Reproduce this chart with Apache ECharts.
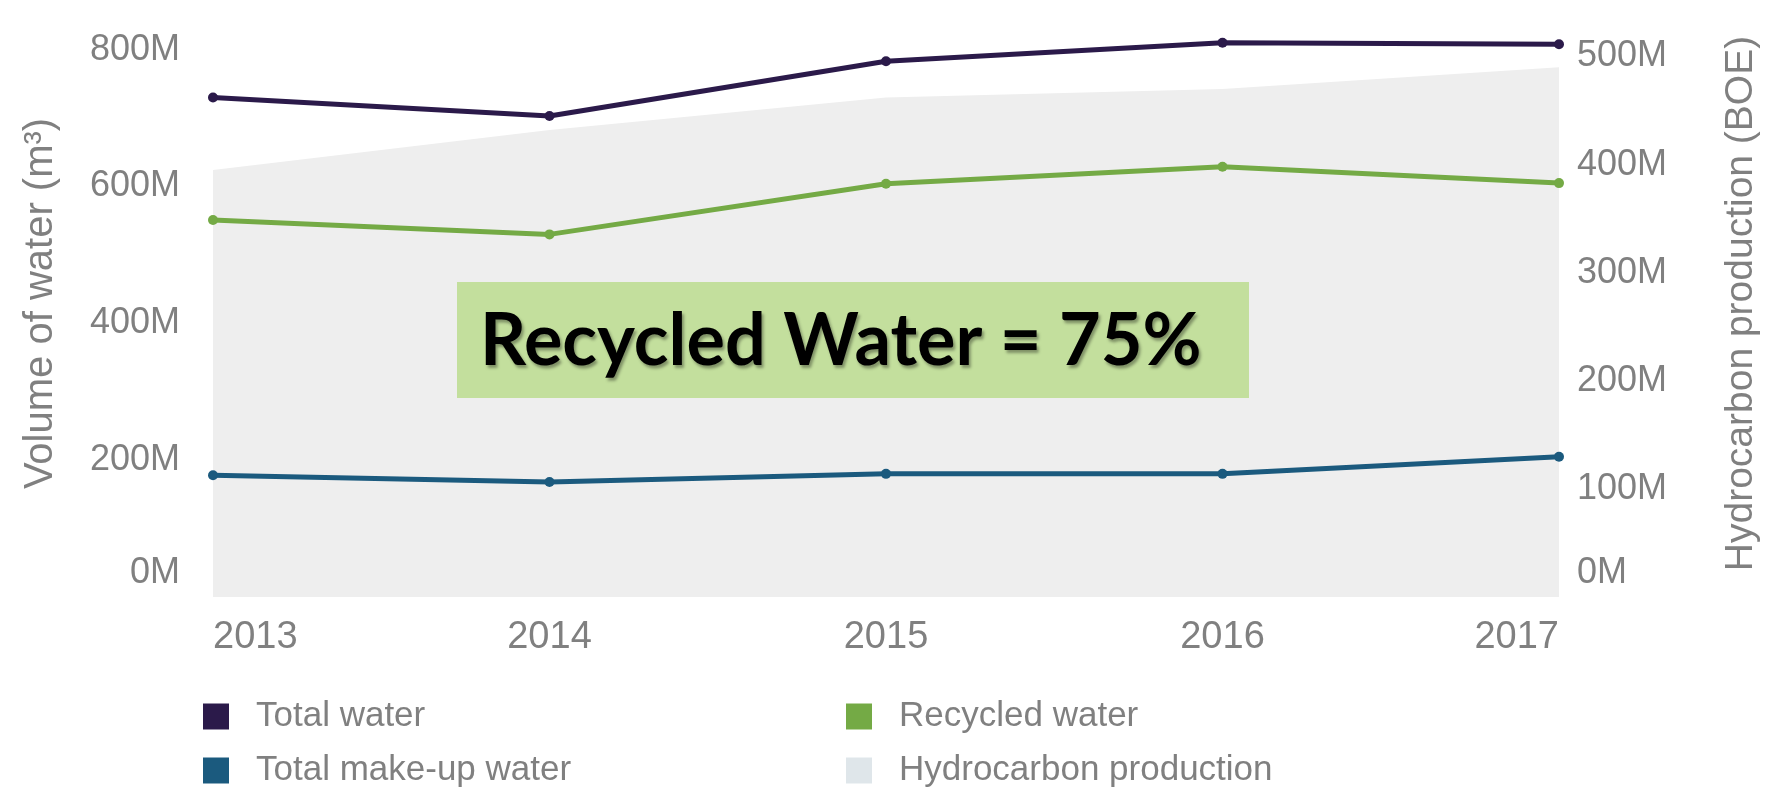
<!DOCTYPE html>
<html>
<head>
<meta charset="utf-8">
<title>Water volume vs hydrocarbon production</title>
<script src="https://cdn.jsdelivr.net/npm/echarts@6.0.0/dist/echarts.min.js"></script>
<style>
  html, body { margin: 0; padding: 0; background: #fff; }
  #chart { width: 1769px; height: 789px; }
</style>
</head>
<body>
<div id="chart"></div>
<script>
// data (millions; water in m3, production in BOE)
var years = ['2013', '2014', '2015', '2016', '2017'];
var totalWater = [730, 703, 783, 810, 808];
var recycledWater = [551, 530, 604, 629, 605];
var makeUpWater = [178, 168, 180, 180, 205];
var hydrocarbon = [395, 432, 462, 470, 490];
var leftTicks = [0, 200, 400, 600, 800];
var rightTicks = [0, 100, 200, 300, 400, 500];

var FONT = 'Liberation Sans, Arial, sans-serif';
var LABEL = '#808080';

var chart = echarts.init(document.getElementById('chart'));

// 0M label sits a bit above the baseline in the original
function tickLabel(v) {
  return v === 0 ? '{z|0M}' : v + 'M';
}

var legendText = { fontSize: 35, lineHeight: 35, color: LABEL, fontFamily: FONT, padding: [0, 0, 0, 22] };

var option = {
  backgroundColor: '#ffffff',
  animation: false,
  grid: {
    left: 213,
    right: 209,
    top: 10,
    bottom: 192
  },
  legend: [
    {
      orient: 'vertical',
      left: 203,
      top: 699,
      padding: 0,
      itemWidth: 26,
      itemHeight: 26,
      itemGap: 19,
      icon: 'rect',
      textStyle: legendText,
      data: ['Total water', 'Total make-up water']
    },
    {
      orient: 'vertical',
      left: 846,
      top: 699,
      padding: 0,
      itemWidth: 26,
      itemHeight: 26,
      itemGap: 19,
      icon: 'rect',
      textStyle: legendText,
      data: [
        'Recycled water',
        { name: 'Hydrocarbon production', itemStyle: { color: '#dfe6ea' } }
      ]
    }
  ],
  xAxis: {
    type: 'category',
    data: years,
    boundaryGap: false,
    axisLine: { show: false },
    axisTick: { show: false },
    splitLine: { show: false },
    axisLabel: {
      fontSize: 38,
      color: LABEL,
      fontFamily: FONT,
      margin: 22,
      alignMinLabel: 'left',
      alignMaxLabel: 'right'
    }
  },
  yAxis: [
    {
      type: 'value',
      min: leftTicks[0],
      max: 858,
      interval: 200,
      name: 'Volume of water (m³)',
      nameLocation: 'middle',
      nameRotate: 90,
      nameGap: 152,
      nameTextStyle: { fontSize: 40, color: LABEL, fontFamily: FONT },
      axisLine: { show: false },
      axisTick: { show: false },
      splitLine: { show: false },
      axisLabel: {
        showMaxLabel: false,
        fontSize: 36,
        color: LABEL,
        fontFamily: FONT,
        margin: 33,
        formatter: tickLabel,
        rich: { z: { fontSize: 36, color: LABEL, fontFamily: FONT, padding: [0, 0, 48, 0] } }
      }
    },
    {
      type: 'value',
      min: rightTicks[0],
      max: 543,
      interval: 100,
      name: 'Hydrocarbon production (BOE)',
      nameLocation: 'middle',
      nameRotate: 90,
      nameGap: 163,
      nameTextStyle: { fontSize: 39, color: LABEL, fontFamily: FONT },
      axisLine: { show: false },
      axisTick: { show: false },
      splitLine: { show: false },
      axisLabel: {
        showMaxLabel: false,
        fontSize: 36,
        color: LABEL,
        fontFamily: FONT,
        margin: 18,
        formatter: tickLabel,
        rich: { z: { fontSize: 36, color: LABEL, fontFamily: FONT, padding: [0, 0, 48, 0] } }
      }
    }
  ],
  series: [
    {
      name: 'Hydrocarbon production',
      type: 'line',
      yAxisIndex: 1,
      data: hydrocarbon,
      symbol: 'none',
      lineStyle: { width: 0 },
      itemStyle: { color: '#eeeeee' },
      areaStyle: { color: '#eeeeee', opacity: 1 },
      z: 1
    },
    {
      name: 'Total water',
      type: 'line',
      data: totalWater,
      symbol: 'circle',
      symbolSize: 10,
      clip: false,
      lineStyle: { width: 5, color: '#2b1a4a' },
      itemStyle: { color: '#2b1a4a' },
      z: 3
    },
    {
      name: 'Recycled water',
      type: 'line',
      data: recycledWater,
      symbol: 'circle',
      symbolSize: 10,
      lineStyle: { width: 5, color: '#74aa45' },
      itemStyle: { color: '#74aa45' },
      z: 3
    },
    {
      name: 'Total make-up water',
      type: 'line',
      data: makeUpWater,
      symbol: 'circle',
      symbolSize: 10,
      lineStyle: { width: 5, color: '#1b5a7e' },
      itemStyle: { color: '#1b5a7e' },
      z: 3
    }
  ],
  graphic: [
    {
      type: 'rect',
      z: 10,
      shape: { x: 457, y: 282, width: 792, height: 116 },
      style: { fill: '#c3df9d' }
    },
    {
      type: 'text',
      z: 11,
      style: {
        text: 'Recycled Water = 75%',
        x: 480,
        y: 342,
        fill: '#000000',
        fontSize: 72,
        fontWeight: 'bold',
        fontFamily: 'Lato, sans-serif',
        verticalAlign: 'middle',
        textShadowColor: 'rgba(0,0,0,0.35)',
        textShadowBlur: 3,
        textShadowOffsetX: 2,
        textShadowOffsetY: 3
      }
    }
  ]
};

chart.setOption(option);
</script>
</body>
</html>
